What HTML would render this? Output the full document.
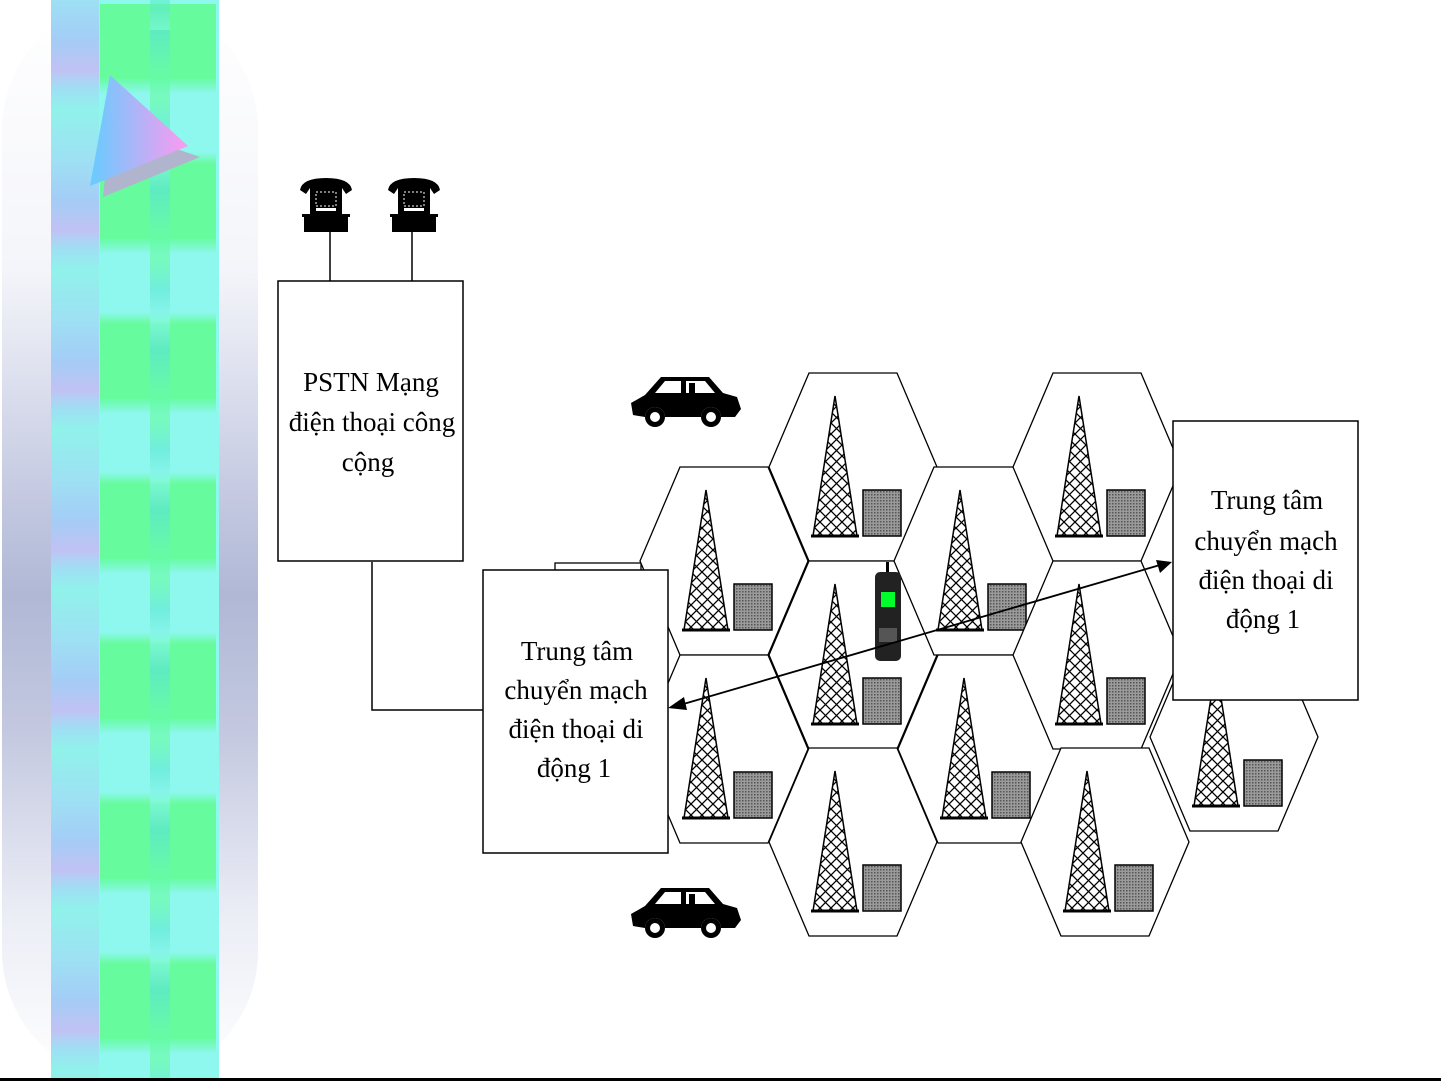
<!DOCTYPE html>
<html><head><meta charset="utf-8"><style>
html,body{margin:0;padding:0;background:#fff;}
body{width:1441px;height:1081px;position:relative;overflow:hidden;}
#side{position:absolute;left:2px;top:0;width:256px;height:1081px;border-radius:50% 50% 50% 50% / 12% 12% 12% 12%;
background:linear-gradient(to bottom,#ffffff 0%,#f4f5fa 25%,#c6cbe2 45%,#b0b8d6 55%,#c4c9e0 68%,#eceef6 85%,#ffffff 100%);}
#stripe{position:absolute;left:51px;top:0;width:168px;height:1081px;background:#8ef7ee;}
#s1{position:absolute;left:51px;top:0;width:48px;height:1081px;
background:repeating-linear-gradient(to bottom,#9ee0f4 0px,#a4cdf6 40px,#c0c2f4 70px,#9ee0f4 90px,#90f2ea 110px,#9ee0f4 160px);}
#s2{position:absolute;left:100px;top:0;width:116px;height:1081px;
background:repeating-linear-gradient(to bottom,#66fc9e 0px,#66fc9e 74px,#8ef7ee 90px,#8ef7ee 148px,#66fc9e 160px);background-position:0 4px;}
#s3{position:absolute;left:150px;top:0;width:20px;height:1081px;
background:repeating-linear-gradient(to bottom,#58e0d8 0px,#66f8b0 40px,#66fc9e 70px,#5ee8d0 100px,#8ef7ee 130px,#58e0d8 160px);background-position:0 30px;opacity:.6;}
svg{position:absolute;left:0;top:0;}
.t{font-family:"Liberation Serif",serif;font-size:27px;fill:#000;}
</style></head><body>
<div id="side"></div>
<div id="stripe"></div><div id="s1"></div><div id="s2"></div><div id="s3"></div>
<svg width="1441" height="1081" viewBox="0 0 1441 1081">
<defs>
<linearGradient id="tg" x1="0" x2="1"><stop offset="0" stop-color="#66ccff"/><stop offset="1" stop-color="#ff99f0"/></linearGradient>
<pattern id="hatch" patternUnits="userSpaceOnUse" width="11" height="11">
<path d="M0,0 L11,11 M11,0 L0,11" stroke="#000" stroke-width="1.3"/></pattern>
<pattern id="dots" patternUnits="userSpaceOnUse" width="3" height="3">
<rect width="3" height="3" fill="#9a9a9a"/><rect width="1.5" height="1.5" fill="#555"/></pattern>
<g id="cell">
<polygon points="-84,0 -44,-94 44,-94 84,0 44,94 -44,94" fill="#fff" stroke="#000" stroke-width="1.3"/>
<polygon points="-18,-71 -40,69 4,69" fill="url(#hatch)" stroke="#000" stroke-width="1.5"/>
<line x1="-42" y1="69" x2="6" y2="69" stroke="#000" stroke-width="3"/>
<rect x="10" y="23" width="38" height="46" fill="url(#dots)" stroke="#000" stroke-width="1.5"/>
</g>
<g id="car">
<path d="M14,22 L30,4 L78,4 L92,20 L106,24 L110,36 L104,44 L90,44 A10,10 0 0 0 70,44 L34,44 A10,10 0 0 0 14,44 L2,42 L0,30 Z" fill="#000"/>
<polygon points="34,8 50,8 50,20 24,20" fill="#fff"/>
<polygon points="55,8 74,8 84,20 55,20" fill="#fff"/>
<rect x="58" y="10" width="6" height="12" fill="#000"/>
<circle cx="24" cy="44" r="10" fill="#000"/><circle cx="24" cy="44" r="5" fill="#fff"/>
<circle cx="80" cy="44" r="10" fill="#000"/><circle cx="80" cy="44" r="5" fill="#fff"/>
</g>
<g id="tel">
<path d="M0,14 Q2,2 26,2 Q50,2 52,14 L46,18 L42,12 L10,12 L6,18 Z" fill="#000"/>
<rect x="10" y="12" width="32" height="26" fill="#000"/>
<rect x="16" y="16" width="20" height="14" fill="#000" stroke="#fff" stroke-width="1" stroke-dasharray="2,2"/>
<rect x="16" y="32" width="20" height="3" fill="#fff"/>
<rect x="4" y="40" width="44" height="16" fill="#000"/>
<rect x="2" y="38" width="48" height="3" fill="#000"/>
</g>
</defs>
<polygon points="103,197 200,157 110,126" fill="#b0b4cc"/>
<polygon points="90,186 188,146 110,75" fill="url(#tg)"/>

<use href="#tel" x="300" y="176"/>
<use href="#tel" x="388" y="176"/>
<line x1="330" y1="232" x2="330" y2="281" stroke="#000" stroke-width="1.5"/>
<line x1="412" y1="232" x2="412" y2="281" stroke="#000" stroke-width="1.5"/>

<polyline points="372,562 372,710 483,710" fill="none" stroke="#000" stroke-width="1.5"/>
<rect x="555" y="563" width="86" height="8" fill="#fff" stroke="#000" stroke-width="1.3"/>

<use href="#cell" x="724" y="561"/>
<use href="#cell" x="724" y="749"/>
<use href="#cell" x="853" y="467"/>
<use href="#cell" x="853" y="655"/>
<use href="#cell" x="853" y="842"/>
<use href="#cell" x="978" y="561"/>
<use href="#cell" x="982" y="749"/>
<use href="#cell" x="1097" y="467"/>
<use href="#cell" x="1097" y="655"/>
<use href="#cell" x="1105" y="842"/>
<use href="#cell" x="1234" y="737"/>

<use href="#car" x="631" y="373"/>
<use href="#car" x="631" y="884"/>

<rect x="278" y="281" width="185" height="280" fill="#fff" stroke="#000" stroke-width="1.5"/>
<text class="t" text-anchor="middle" x="371" y="391">PSTN Mạng</text>
<text class="t" text-anchor="middle" x="372" y="431">điện thoại công</text>
<text class="t" text-anchor="middle" x="368" y="471">cộng</text>

<rect x="483" y="570" width="185" height="283" fill="#fff" stroke="#000" stroke-width="1.5"/>
<text class="t" text-anchor="middle" x="577" y="660">Trung tâm</text>
<text class="t" text-anchor="middle" x="576" y="699">chuyển mạch</text>
<text class="t" text-anchor="middle" x="576" y="738">điện thoại di</text>
<text class="t" text-anchor="middle" x="574" y="777">động 1</text>

<rect x="1173" y="421" width="185" height="279" fill="#fff" stroke="#000" stroke-width="1.5"/>
<text class="t" text-anchor="middle" x="1267" y="509">Trung tâm</text>
<text class="t" text-anchor="middle" x="1266" y="550">chuyển mạch</text>
<text class="t" text-anchor="middle" x="1266" y="589">điện thoại di</text>
<text class="t" text-anchor="middle" x="1263" y="628">động 1</text>

<rect x="886" y="562" width="3" height="14" fill="#000"/>
<rect x="875" y="572" width="26" height="89" rx="5" fill="#222"/>
<rect x="881" y="592" width="14" height="15" fill="#00ff2a"/>
<rect x="879" y="628" width="18" height="14" fill="#555"/>

<line x1="680" y1="705" x2="1160" y2="565" stroke="#000" stroke-width="1.8"/>
<polygon points="668,708 684,697 687,710" fill="#000"/>
<polygon points="1172,562 1156,560 1160,573" fill="#000"/>

<rect x="0" y="1078" width="1441" height="3" fill="#000"/>
</svg>
</body></html>
